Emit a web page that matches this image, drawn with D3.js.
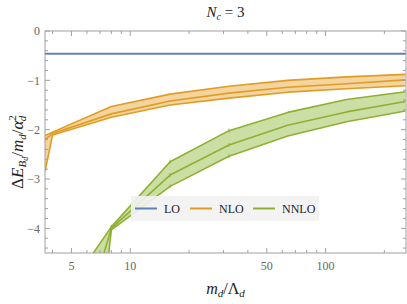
<!DOCTYPE html>
<html>
<head>
<meta charset="utf-8">
<script src="https://cdn.jsdelivr.net/npm/d3@7"></script>
<style>
  body { margin: 0; background: #fff; }
  svg text { font-family: "Liberation Serif", "DejaVu Serif", serif; }
</style>
</head>
<body>
<div id="chart"></div>
<script>
// x values (m_d / Lambda_d)
var xNLO = [3.66, 4, 8, 16, 32, 64, 128, 256];
var xNNLO = [4, 8, 16, 32, 64, 128, 256];

// LO is a constant
var loValue = -0.46;

// NLO band: upper edge, central, lower edge
var nloUpper = [-2.12, -2.05, -1.53, -1.28, -1.12, -1.00, -0.93, -0.88];
var nloCentral = [-2.2, -2.08, -1.68, -1.42, -1.26, -1.14, -1.07, -0.99];
var nloLower = [-2.85, -2.11, -1.75, -1.50, -1.36, -1.24, -1.17, -1.11];

// NNLO band (first point sits below the visible range)
var nnloUpper = [-5.7, -3.97, -2.65, -2.02, -1.65, -1.39, -1.23];
var nnloCentral = [-8.0, -4.0, -2.92, -2.31, -1.91, -1.64, -1.43];
var nnloLower = [-14.7, -4.03, -3.15, -2.54, -2.13, -1.84, -1.62];

var xTicks = [5, 10, 50, 100];
var xMinor = [4, 6, 7, 8, 9, 20, 30, 40, 60, 70, 80, 90, 200];
var yTicks = [0, -1, -2, -3, -4];

var legendNames = ["LO", "NLO", "NNLO"];
var colors = { LO: "#5e81b5", NLO: "#e19c24", NNLO: "#8fb032" };

var width = 407, height = 304;
var m = { left: 45, right: 1, top: 31, bottom: 51 };
var iw = width - m.left - m.right,
    ih = height - m.top - m.bottom;

var x = d3.scaleLog().domain([3.66, 258]).range([0, iw]);
var y = d3.scaleLinear().domain([-4.5, 0]).range([ih, 0]);

var svg = d3.select("#chart").append("svg")
    .attr("width", width)
    .attr("height", height);

svg.append("defs").append("clipPath").attr("id", "clip")
    .append("rect").attr("width", iw).attr("height", ih);

var g = svg.append("g").attr("transform", "translate(" + m.left + "," + m.top + ")");
var plot = g.append("g").attr("clip-path", "url(#clip)");

// build a band + three lines
function band(xs, up, mid, lo, color, fill, marks) {
    var pts = xs.map(function (d, i) { return { x: d, u: up[i], c: mid[i], l: lo[i] }; });
    var area = d3.area()
        .x(function (d) { return x(d.x); })
        .y0(function (d) { return y(d.l); })
        .y1(function (d) { return y(d.u); });
    plot.append("path").datum(pts)
        .attr("d", area)
        .attr("fill", fill)
        .attr("stroke", "none");
    ["u", "c", "l"].forEach(function (k) {
        var line = d3.line()
            .x(function (d) { return x(d.x); })
            .y(function (d) { return y(d[k]); });
        plot.append("path").datum(pts)
            .attr("d", line)
            .attr("fill", "none")
            .attr("stroke", color)
            .attr("stroke-width", 1.6)
            .attr("stroke-linejoin", "round");
        if (!marks) return;
        // small error marks at the points
        plot.selectAll(null).data(pts.slice(1, 4)).enter().append("line")
            .attr("x1", function (d) { return x(d.x); })
            .attr("x2", function (d) { return x(d.x); })
            .attr("y1", function (d) { return y(d[k]) - 2; })
            .attr("y2", function (d) { return y(d[k]) + 2; })
            .attr("stroke", color)
            .attr("stroke-width", 1);
    });
}

band(xNLO, nloUpper, nloCentral, nloLower, colors.NLO, "rgba(235,176,80,0.55)", false);
band(xNNLO, nnloUpper, nnloCentral, nnloLower, colors.NNLO, "rgba(160,196,90,0.55)", true);

plot.append("line")
    .attr("x1", 0).attr("x2", iw)
    .attr("y1", y(loValue)).attr("y2", y(loValue))
    .attr("stroke", colors.LO)
    .attr("stroke-width", 2);

// frame and ticks
var frameColor = "#a0a0a0";
g.append("rect")
    .attr("width", iw).attr("height", ih)
    .attr("fill", "none")
    .attr("stroke", frameColor)
    .attr("stroke-width", 1);

var yMinor = d3.range(0, 23).map(function (i) { return -i * 0.2; })
    .filter(function (v) { return Math.abs(v - Math.round(v)) > 0.01; });

function yTickMarks(vals, len) {
    vals.forEach(function (v) {
        g.append("line").attr("x1", 0).attr("x2", len)
            .attr("y1", y(v)).attr("y2", y(v))
            .attr("stroke", frameColor);
        g.append("line").attr("x1", iw).attr("x2", iw - len)
            .attr("y1", y(v)).attr("y2", y(v))
            .attr("stroke", frameColor);
    });
}
yTickMarks(yTicks, 5);
yTickMarks(yMinor, 3);

function xTickMarks(vals, len) {
    vals.forEach(function (v) {
        g.append("line").attr("y1", ih).attr("y2", ih - len)
            .attr("x1", x(v)).attr("x2", x(v))
            .attr("stroke", frameColor);
        g.append("line").attr("y1", 0).attr("y2", len)
            .attr("x1", x(v)).attr("x2", x(v))
            .attr("stroke", frameColor);
    });
}
xTickMarks(xTicks, 5);
xTickMarks(xMinor, 3);

g.selectAll(".ylab").data(yTicks).enter().append("text")
    .attr("x", -5)
    .attr("y", function (d) { return y(d); })
    .attr("dy", "0.35em")
    .attr("text-anchor", "end")
    .attr("font-size", 12)
    .attr("fill", "#666")
    .text(function (d) { return d === 0 ? "0" : "\u2212" + Math.abs(d); });

g.selectAll(".xlab").data(xTicks).enter().append("text")
    .attr("x", function (d) { return x(d); })
    .attr("y", ih + 17)
    .attr("text-anchor", "middle")
    .attr("font-size", 12)
    .attr("fill", "#666")
    .text(function (d) { return d; });

// title N_c = 3
var title = svg.append("text")
    .attr("x", m.left + iw / 2)
    .attr("y", 17)
    .attr("text-anchor", "middle")
    .attr("font-size", 15)
    .attr("fill", "#222");
title.append("tspan").attr("font-style", "italic").text("N");
title.append("tspan").attr("font-style", "italic").attr("font-size", 10).attr("dy", 3).text("c");
title.append("tspan").attr("dy", -3).text(" = 3");

// x label m_d / Lambda_d
var xl = svg.append("text")
    .attr("x", m.left + iw / 2)
    .attr("y", 294)
    .attr("text-anchor", "middle")
    .attr("font-size", 16)
    .attr("fill", "#222");
xl.append("tspan").attr("font-style", "italic").text("m");
xl.append("tspan").attr("font-style", "italic").attr("font-size", 11).attr("dy", 3).text("d");
xl.append("tspan").attr("dy", -3).text("/\u039b");
xl.append("tspan").attr("font-style", "italic").attr("font-size", 11).attr("dy", 3).text("d");

// y label
var yl = svg.append("text")
    .attr("transform", "translate(23," + (m.top + 121) + ") rotate(-90)")
    .attr("text-anchor", "middle")
    .attr("font-size", 17)
    .attr("fill", "#222");
yl.append("tspan").text("\u0394");
yl.append("tspan").attr("font-style", "italic").text("E");
yl.append("tspan").attr("font-style", "italic").attr("font-size", 11).attr("dy", 3).text("B");
yl.append("tspan").attr("font-style", "italic").attr("font-size", 8).attr("dy", 2).text("d");
yl.append("tspan").attr("dy", -5).text("/");
yl.append("tspan").attr("font-style", "italic").text("m");
yl.append("tspan").attr("font-style", "italic").attr("font-size", 11).attr("dy", 3).text("d");
yl.append("tspan").attr("dy", -3).text("/");
yl.append("tspan").attr("font-style", "italic").text("\u03b1");
yl.append("tspan").attr("font-size", 11).attr("dy", -7).text("2");
yl.append("tspan").attr("font-style", "italic").attr("font-size", 11).attr("dx", -6).attr("dy", 10).text("d");

// legend
var leg = svg.append("g").attr("transform", "translate(131,196)");
leg.append("rect")
    .attr("width", 188).attr("height", 25)
    .attr("fill", "#f2f2f2")
    .attr("fill-opacity", 0.9);
var legX = [4, 59, 122];
var legItem = leg.selectAll(".item").data(legendNames).enter().append("g")
    .attr("transform", function (d, i) { return "translate(" + legX[i] + ",0)"; });
legItem.append("line")
    .attr("x1", 0).attr("x2", 22)
    .attr("y1", 12.5).attr("y2", 12.5)
    .attr("stroke", function (d) { return colors[d]; })
    .attr("stroke-width", 2);
legItem.append("text")
    .attr("x", 29).attr("y", 12.5)
    .attr("dy", "0.35em")
    .attr("font-size", 12)
    .attr("fill", "#222")
    .text(function (d) { return d; });
</script>
</body>
</html>
